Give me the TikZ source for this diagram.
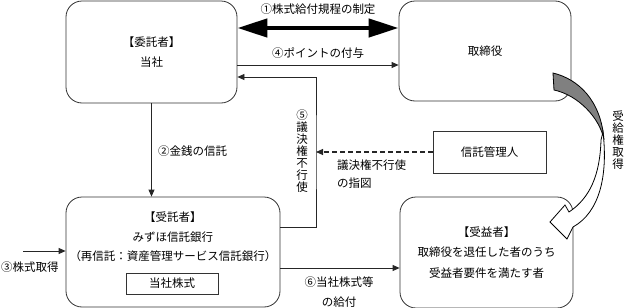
\documentclass[tikz,border=0pt]{standalone}
\usepackage{fontspec}
\setmainfont{Noto Sans CJK JP}
\usetikzlibrary{arrows.meta}
\definecolor{kgray}{RGB}{128,128,128}

\begin{document}
\begin{tikzpicture}[x=1pt,y=-1pt,
  box/.style={draw=black!80, line width=0.8pt, rounded corners=16pt, align=center, font=\fontsize{11.5}{20.5}\selectfont},
  plainbox/.style={draw=black!80, line width=0.8pt, font=\fontsize{11.5}{14}\selectfont},
  arr/.style={draw=black!85, line width=0.8pt, -{Triangle[length=7pt,width=6pt]}},
  lbl/.style={font=\fontsize{11.5}{20}\selectfont, inner sep=0pt},
  vlbl/.style={font=\fontsize{11.5}{12}\selectfont, align=center, inner sep=0pt}]
\useasboundingbox (0,0) rectangle (625,308);
% boxes
\node[box, minimum width=171pt, minimum height=102pt] (itaku) at (151.5,52) {【委託者】\\当社};
\node[box, minimum width=172pt, minimum height=100pt] (torishimari) at (485,51) {取締役};
\node[box, minimum width=214pt, minimum height=110pt] (jutaku) at (173,252) {};
\node[box, minimum width=173pt, minimum height=111pt] (juneki) at (486.5,252.5) {【受益者】\\取締役を退任した者のうち\\受益者要件を満たす者};
\node[plainbox, minimum width=113pt, minimum height=42pt] (kanri) at (489.5,152) {信託管理人};
\node[plainbox, minimum width=92pt, minimum height=21pt] (kabu) at (172,283.5) {当社株式};
\node[lbl, align=center, font=\fontsize{11.5}{19.5}\selectfont] (jutakutxt) at (173,237) {【受託者】\\みずほ信託銀行\\（再信託：資産管理サービス信託銀行）};
% (1) and (4)
\coordinate (a1) at ([yshift=24pt]itaku.east);
\draw[line width=4.5pt, {Triangle[length=30pt,width=18pt]}-{Triangle[length=30pt,width=18pt]}] (a1) -- (a1 -| torishimari.west);
\node[lbl] (l1) at (318,9) {①株式給付規程の制定};
\coordinate (a4) at ([yshift=-13pt]itaku.east);
\draw[arr] (a4) -- (a4 -| torishimari.west);
\node[lbl] (l4) at (318,53) {④ポイントの付与};
% (5) and instruction
\coordinate (giketsu) at (316,152);
\draw[arr] ([yshift=25pt]jutaku.east) -| (giketsu) |- ([yshift=-25pt]itaku.east);
\draw[arr, dash pattern=on 5pt off 3pt, line width=1.1pt] (kanri.west) -- (giketsu);
\node[vlbl] (l5) at (302,151) {⑤\\議\\決\\権\\不\\行\\使};
\node[lbl, align=left, anchor=west, font=\fontsize{11.5}{18}\selectfont] (lsashizu) at (337,174) {議決権不行使\\の指図};
% (2) (3) (6)
\draw[arr] (itaku.south) -- (itaku.south |- jutaku.north);
\node[lbl, anchor=west] (l2) at (158,151) {②金銭の信託};
\coordinate (shutoku) at (23,251);
\draw[arr] (shutoku) -- (shutoku -| jutaku.west);
\node[lbl] (l3) at (30,267) {③株式取得};
\coordinate (a6) at ([yshift=-16pt]jutaku.east);
\draw[arr] (a6) -- (a6 -| juneki.west);
\node[lbl, align=center] (l6) at (339,292) {⑥当社株式等\\の給付};
% curved arrow
\filldraw[fill=kgray, draw=black, line width=0.8pt] (553,73) .. controls (578,79) and (601,100) .. (604,140) .. controls (600,118) and (578,95) .. (554,90) -- cycle;
\filldraw[fill=white, draw=black, line width=0.8pt] (603,132) .. controls (608,175) and (600,212) .. (573,227) -- (567,239) -- (550,222) -- (565,205) -- (569,212) .. controls (590,198) and (600,175) .. (601,140) -- cycle;
\node[vlbl] (l7) at (618,140) {受\\給\\権\\取\\得};
\end{tikzpicture}
\end{document}
